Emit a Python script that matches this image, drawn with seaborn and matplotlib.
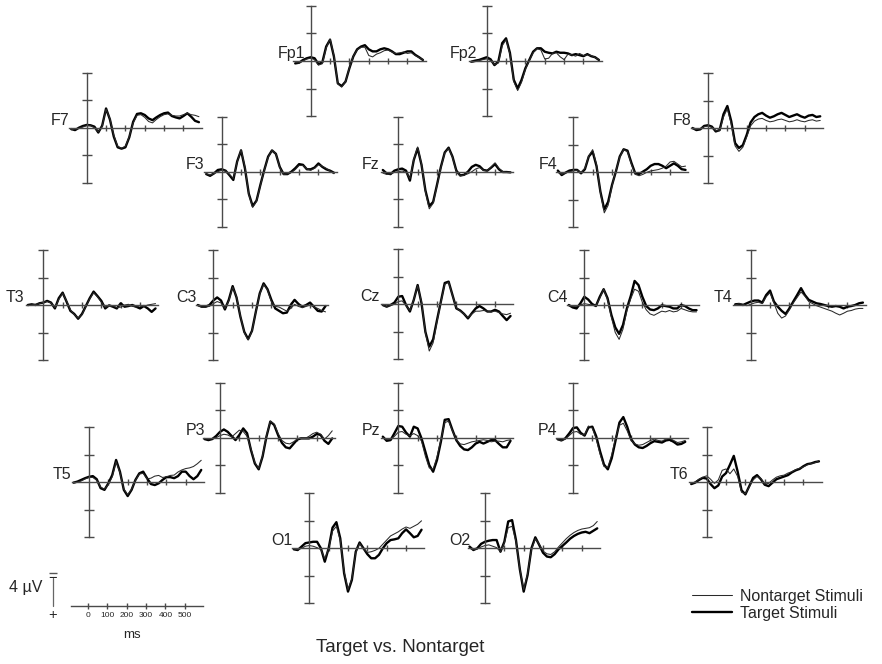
import matplotlib
matplotlib.use("Agg")
import numpy as np
import pandas as pd
import seaborn as sns
import matplotlib.pyplot as plt
from matplotlib.lines import Line2D

# sample times (ms) of the averaged ERP traces
times = list(range(-80, 600, 20))

# amplitudes in microvolts (negative is drawn upward)
fp1_target = [0.35, 0.25, -0.15, -0.4, -0.55, -0.4, 0.45, 0.2, -2.1, -3.1, -0.65, 3.25, 3.65, 3.0, 1.05, -0.65, -1.7, -2.1, -2.3, -1.7, -1.4, -1.4, -1.7, -1.85, -1.7, -1.4, -1.0, -1.0, -1.2, -1.4, -1.4, -0.9, -0.55, -0.15]
fp1_nontarget = [0.2, 0.3, 0.0, -0.3, -0.4, -0.2, 0.6, 0.4, -1.9, -3.2, -0.8, 3.3, 3.8, 3.0, 1.0, -0.7, -1.6, -2.0, -2.0, -0.8, -0.6, -1.0, -1.2, -1.5, -1.6, -1.3, -1.1, -1.2, -1.3, -1.1, -1.2, -0.8, -0.5, -0.2]
fp2_target = [0.1, -0.05, -0.15, -0.35, -0.55, -0.25, 0.6, 0.1, -2.6, -3.3, -1.2, 2.75, 4.0, 2.75, 1.05, -0.15, -1.35, -1.85, -1.85, -1.35, -1.2, -1.1, -1.35, -1.2, -1.2, -1.1, -0.85, -1.0, -0.85, -0.7, -1.0, -0.7, -0.55, -0.15]
fp2_nontarget = [0.2, 0.1, -0.1, -0.2, -0.3, -0.1, 0.5, 0.3, -2.2, -3.1, -1.0, 3.0, 4.3, 3.1, 1.2, -0.1, -1.2, -1.8, -1.6, -0.3, -0.4, -1.1, -1.2, -0.6, -0.2, -1.0, -0.9, -0.7, -1.1, -0.8, -0.9, -0.8, -0.5, -0.2]
f7_target = [0.2, 0.35, 0.0, -0.25, -0.4, -0.35, -0.15, 0.7, -0.3, -2.8, -1.2, 1.3, 2.85, 3.05, 2.85, 1.4, -0.85, -2.0, -2.1, -1.85, -1.35, -1.1, -1.5, -1.85, -2.1, -2.2, -1.7, -1.5, -1.35, -1.7, -2.1, -1.6, -1.0, -0.8]
f7_nontarget = [0.3, 0.2, 0.1, -0.1, -0.3, -0.3, 0.0, 0.6, -0.2, -2.7, -1.3, 1.1, 2.7, 3.0, 2.7, 1.3, -0.7, -1.8, -1.9, -1.5, -0.9, -0.7, -1.2, -1.6, -1.9, -2.0, -1.8, -1.7, -1.7, -1.9, -2.1, -1.9, -1.8, -1.6]
f8_target = [0.0, 0.3, 0.2, -0.3, -0.4, -0.2, 0.5, 0.3, -2.0, -3.2, -1.0, 2.2, 2.9, 2.5, 1.0, -0.8, -1.6, -2.0, -2.2, -1.8, -1.5, -1.7, -2.0, -2.2, -1.9, -1.6, -1.8, -2.0, -1.7, -1.5, -1.8, -1.9, -1.6, -1.7]
f8_nontarget = [0.1, 0.2, 0.1, -0.2, -0.3, -0.1, 0.4, 0.4, -1.6, -2.8, -0.6, 2.6, 3.4, 2.8, 1.3, -0.3, -1.0, -1.3, -1.4, -1.1, -0.9, -1.0, -1.2, -1.3, -1.1, -0.9, -1.0, -1.2, -1.0, -0.9, -1.1, -1.2, -1.0, -1.1]
f3_target = [0.35, 0.6, 0.25, -0.25, -0.35, -0.15, 0.5, 1.2, -1.5, -3.1, -0.5, 3.2, 5.0, 4.2, 1.9, -0.25, -2.2, -3.1, -2.6, -0.7, 0.35, 0.35, 0.0, -0.5, -1.1, -1.0, -0.35, -0.35, -0.6, -1.2, -0.7, -0.35, -0.15, 0.15]
f3_nontarget = [0.3, 0.5, 0.3, 0.0, -0.2, -0.1, 0.4, 1.0, -1.4, -3.2, -0.7, 3.3, 5.2, 4.3, 2.0, -0.2, -2.1, -3.1, -2.6, -0.6, 0.4, 0.3, 0.1, -0.3, -0.9, -0.9, -0.4, -0.2, -0.5, -1.0, -0.8, -0.5, -0.1, 0.3]
fz_target = [-0.25, 0.25, 0.35, -0.15, -0.35, -0.45, -0.15, 1.3, -1.7, -3.4, -1.0, 2.7, 5.0, 4.4, 1.9, -0.7, -2.8, -3.5, -2.2, -0.15, 0.55, 0.45, 0.0, -0.7, -1.0, -0.8, -0.25, -0.15, -0.6, -1.1, -0.35, 0.05, 0.05, 0.1]
fz_nontarget = [0.2, 0.4, 0.3, 0.1, 0.0, -0.1, 0.1, 1.0, -1.8, -3.6, -1.1, 2.9, 5.4, 4.6, 2.0, -0.6, -2.7, -3.4, -2.1, 0.0, 0.6, 0.5, 0.3, 0.0, -0.4, -0.6, -0.2, -0.1, -0.7, -1.3, -0.5, 0.0, 0.1, 0.1]
f4_target = [-0.25, 0.4, 0.05, -0.25, -0.35, -0.35, 0.15, -0.45, -2.3, -3.0, -0.9, 2.8, 5.4, 4.3, 1.85, -0.1, -2.3, -3.35, -3.15, -1.4, 0.15, 0.25, -0.1, -0.45, -0.95, -1.2, -1.2, -0.95, -0.6, -0.95, -1.3, -0.95, -0.45, -0.35]
f4_nontarget = [0.0, 0.3, 0.1, -0.1, -0.2, -0.3, 0.0, -0.6, -2.4, -3.3, -1.1, 2.9, 5.9, 4.8, 2.0, -0.2, -2.2, -3.3, -3.0, -1.2, 0.3, 0.5, 0.3, 0.0, -0.2, -0.3, -0.4, -0.6, -0.9, -1.5, -1.6, -1.2, -0.8, -0.9]
t3_target = [0.0, -0.1, 0.0, -0.25, -0.35, -0.6, -0.35, 0.5, -1.0, -1.8, -0.5, 0.85, 1.3, 2.0, 1.3, 0.15, -1.0, -1.95, -1.3, -0.6, 0.5, 0.05, 0.25, 0.5, -0.25, 0.25, 0.15, 0.0, 0.25, 0.5, 0.15, 0.5, 1.0, 0.5]
t3_nontarget = [0.1, 0.0, -0.1, -0.2, -0.4, -0.5, -0.3, 0.4, -0.8, -1.7, -0.6, 0.7, 1.4, 1.9, 1.4, 0.2, -0.9, -1.8, -1.2, -0.4, 0.3, 0.2, 0.1, 0.4, 0.3, 0.0, -0.1, 0.2, 0.3, 0.1, 0.2, 0.0, -0.1, -0.2]
c3_target = [0.0, 0.25, 0.25, 0.0, -0.65, -1.1, -0.65, 0.65, -0.75, -2.75, -1.1, 1.7, 3.9, 4.95, 3.75, 0.95, -1.7, -3.15, -2.3, -0.75, 0.5, 0.85, 1.2, 1.1, 0.0, -0.75, -0.15, 0.25, 0.0, -0.35, 0.25, 0.85, 0.95, 0.15]
c3_nontarget = [0.1, 0.3, 0.3, 0.2, -0.2, -0.5, -0.3, 0.5, -0.6, -2.6, -1.2, 1.6, 4.0, 5.1, 3.8, 1.0, -1.6, -3.0, -2.2, -0.5, 0.2, 0.3, 0.6, 0.9, 0.5, -0.1, 0.2, 0.4, 0.2, 0.0, 0.3, 0.5, 0.8, 1.0]
cz_target = [0.1, 0.35, 0.1, -0.25, -1.1, -1.2, 0.1, 1.05, -0.65, -2.8, -0.15, 4.0, 6.15, 5.1, 2.3, -0.4, -3.1, -3.3, -1.35, 0.6, 0.9, 1.4, 2.05, 1.3, 0.6, 0.25, 0.6, 1.05, 1.05, 0.8, 1.05, 1.7, 2.3, 1.7]
cz_nontarget = [0.2, 0.3, 0.2, 0.0, -0.4, -0.5, 0.2, 0.9, -0.7, -2.7, -0.3, 4.1, 6.8, 5.6, 2.5, -0.3, -2.9, -3.2, -1.3, 0.5, 1.0, 1.4, 1.9, 1.4, 1.0, 1.0, 0.9, 1.0, 1.1, 1.0, 1.2, 1.4, 1.5, 1.3]
c4_target = [0.0, 0.35, 0.5, -0.25, -1.2, -0.8, -0.15, 0.15, -1.2, -2.3, -1.0, 1.45, 3.25, 4.2, 2.9, 0.5, -1.3, -3.5, -2.9, -1.2, 0.15, 0.65, 0.75, 0.5, 0.05, 0.15, 0.25, 0.5, 0.5, 0.0, 0.15, 0.5, 0.75, 0.75]
c4_nontarget = [0.1, 0.2, 0.2, 0.0, -0.2, -0.1, 0.0, 0.1, -1.0, -2.3, -0.8, 1.8, 4.0, 5.0, 3.5, 0.8, -0.9, -2.3, -2.0, -0.4, 0.7, 1.3, 1.5, 1.2, 0.9, 1.0, 0.8, 1.0, 0.9, 0.5, 0.7, 0.9, 1.0, 1.0]
t4_target = [-0.1, -0.15, 0.0, -0.25, -0.5, -0.65, -0.65, -0.35, -1.45, -2.1, -0.5, 0.25, 0.85, 1.3, 0.5, -0.5, -1.45, -2.45, -1.45, -0.75, -0.5, -0.25, -0.15, 0.0, 0.15, 0.25, 0.15, 0.25, 0.5, 0.25, 0.15, 0.0, -0.25, -0.35]
t4_nontarget = [0.0, -0.2, -0.1, 0.1, -0.1, -0.3, -0.4, -0.2, -1.2, -1.8, -0.3, 1.2, 1.9, 1.6, 0.7, -0.3, -1.1, -1.9, -1.3, -0.5, -0.2, 0.1, 0.3, 0.5, 0.7, 0.9, 1.2, 1.45, 1.2, 0.9, 0.8, 0.6, 0.5, 0.5]
t5_target = [0.05, -0.1, -0.35, -0.6, -0.8, -0.9, -0.45, 0.85, 1.1, 0.15, -1.05, -3.25, -1.55, 1.1, 2.0, 1.1, -0.35, -1.3, -1.55, -0.6, 0.25, 0.4, 0.15, -0.35, -0.75, -0.75, -0.6, -0.9, -1.55, -1.55, -0.9, -0.45, -0.9, -1.8]
t5_nontarget = [0.1, 0.0, -0.2, -0.5, -0.7, -0.7, -0.3, 0.7, 1.0, 0.3, -0.8, -3.0, -1.4, 1.0, 1.8, 1.0, -0.3, -1.2, -1.3, -0.5, -0.6, -0.9, -1.0, -0.7, -0.8, -1.0, -1.05, -1.5, -1.8, -2.0, -2.1, -2.3, -2.7, -3.2]
p3_target = [0.2, 0.35, 0.2, -0.25, -0.85, -1.2, -0.85, -0.25, 0.35, -0.4, -1.35, -0.65, 1.8, 3.75, 4.6, 2.75, -0.15, -2.35, -1.85, -0.4, 0.75, 1.4, 1.55, 0.9, 0.25, 0.1, 0.1, 0.1, -0.15, -0.55, -0.4, 0.45, 0.9, 0.1]
p3_nontarget = [0.1, 0.2, 0.1, 0.0, -0.3, -0.5, -0.4, -0.1, -0.6, -1.1, -0.9, -0.2, 1.6, 3.6, 4.5, 2.6, -0.3, -2.4, -2.0, -0.6, 0.4, 0.8, 0.9, 0.6, 0.2, 0.0, 0.1, -0.2, -0.6, -0.8, -0.5, 0.2, -0.3, -1.0]
pz_target = [-0.15, 0.45, 0.35, -0.65, -1.7, -1.6, -0.75, -0.15, -1.6, -1.35, 0.1, 2.05, 4.0, 4.95, 3.25, 0.6, -2.6, -2.7, -1.1, 0.35, 1.2, 1.7, 1.8, 1.4, 0.85, 0.6, 0.85, 0.6, 0.35, 0.35, 0.9, 1.4, 1.4, 0.45]
pz_nontarget = [0.0, 0.3, 0.2, -0.2, -0.8, -0.9, -0.5, -0.3, -0.6, -0.3, 0.5, 2.7, 4.4, 4.6, 2.8, 0.3, -2.2, -2.4, -1.0, 0.3, 0.9, 1.0, 0.8, 0.6, 0.5, 0.4, 0.3, 0.4, 0.6, 0.5, 0.5, 0.6, 0.4, 0.3]
p4_target = [0.2, 0.4, 0.1, -0.6, -1.4, -1.5, -0.7, -0.3, -1.5, -1.6, -0.2, 2.0, 3.9, 4.6, 3.0, 0.4, -2.2, -3.0, -1.6, 0.2, 1.0, 1.4, 1.5, 1.2, 0.8, 0.5, 0.6, 0.7, 0.4, 0.3, 0.6, 1.0, 0.9, 0.6]
p4_nontarget = [0.3, 0.4, 0.2, -0.3, -0.8, -0.9, -0.5, -0.4, -1.7, -1.4, 0.2, 2.4, 4.2, 4.3, 2.5, 0.0, -1.8, -2.1, -1.0, 0.4, 0.9, 1.1, 1.0, 0.7, 0.4, 0.2, 0.4, 0.5, 0.2, 0.1, 0.4, 0.7, 0.6, 0.4]
t6_target = [0.3, 0.1, -0.3, -0.6, -0.5, 0.3, 0.9, 0.5, -0.8, -1.3, -2.5, -3.8, -1.5, 1.2, 1.8, 0.6, -0.6, -1.0, -0.4, 0.4, 0.6, 0.1, -0.4, -0.6, -0.8, -1.0, -1.4, -1.7, -1.9, -2.3, -2.6, -2.7, -2.9, -3.0]
t6_nontarget = [0.2, 0.0, -0.4, -0.7, -0.9, -0.4, 0.2, -0.3, -1.7, -1.9, -1.2, -1.9, -0.8, 1.5, 1.7, 0.7, -0.3, -0.8, -0.5, 0.3, 0.2, -0.3, -0.7, -0.9, -1.0, -1.3, -1.5, -1.8, -2.0, -2.2, -2.5, -2.7, -2.8, -3.1]
o1_target = [0.15, 0.25, -0.25, -0.75, -0.85, -0.95, -0.95, 0.0, 1.95, 0.0, -3.0, -3.8, -1.45, 3.65, 6.3, 4.6, 0.5, -0.85, 0.0, 0.85, 1.45, 1.45, 0.95, 0.0, -0.75, -1.2, -1.3, -1.45, -2.2, -2.75, -2.2, -1.6, -1.8, -2.7]
o1_nontarget = [0.1, 0.2, 0.0, -0.3, -0.4, -0.3, -0.1, 0.2, 1.5, 0.1, -2.5, -3.2, -1.2, 3.4, 6.0, 4.4, 0.6, -0.7, 0.1, 0.6, 0.5, 0.3, 0.0, -0.6, -1.2, -1.8, -2.1, -2.4, -2.8, -3.1, -2.9, -3.2, -3.5, -4.0]
o2_target = [-0.25, 0.25, 0.0, -0.65, -0.95, -1.1, -1.2, -1.2, 0.5, -0.95, -3.9, -4.1, -1.2, 3.05, 6.3, 3.9, 0.0, -1.6, -0.5, 0.65, 1.2, 1.3, 0.85, 0.15, -0.35, -0.85, -1.4, -1.8, -2.1, -2.3, -2.4, -2.2, -2.55, -2.9]
o2_nontarget = [0.0, 0.2, 0.1, -0.2, -0.4, -0.5, -0.3, -0.1, 0.5, -0.8, -3.0, -3.2, -1.0, 3.0, 6.0, 3.7, 0.2, -1.4, -0.6, 0.4, 0.8, 0.9, 0.5, -0.2, -0.8, -1.4, -1.9, -2.3, -2.6, -2.8, -2.9, -3.0, -3.3, -3.9]

channels = {
    'Fp1': (fp1_target, fp1_nontarget), 'Fp2': (fp2_target, fp2_nontarget),
    'F7': (f7_target, f7_nontarget), 'F8': (f8_target, f8_nontarget),
    'F3': (f3_target, f3_nontarget), 'Fz': (fz_target, fz_nontarget), 'F4': (f4_target, f4_nontarget),
    'T3': (t3_target, t3_nontarget), 'C3': (c3_target, c3_nontarget), 'Cz': (cz_target, cz_nontarget),
    'C4': (c4_target, c4_nontarget), 'T4': (t4_target, t4_nontarget),
    'T5': (t5_target, t5_nontarget), 'P3': (p3_target, p3_nontarget), 'Pz': (pz_target, pz_nontarget),
    'P4': (p4_target, p4_nontarget), 'T6': (t6_target, t6_nontarget),
    'O1': (o1_target, o1_nontarget), 'O2': (o2_target, o2_nontarget),
}

# where each electrode's axes cross on the page (pixels from top-left) and label gap
layout = {
    'Fp1': (310.7, 61, 5), 'Fp2': (486.7, 61, 10),
    'F7': (86.7, 127.7, 17), 'F8': (708, 128, 17),
    'F3': (221.7, 171.7, 17), 'Fz': (398.3, 171.7, 19), 'F4': (573.3, 172.3, 16),
    'T3': (43.3, 305, 19), 'C3': (213.3, 305, 17), 'Cz': (398.3, 304.3, 19),
    'C4': (584.3, 305, 17), 'T4': (750.7, 305, 18),
    'T5': (89, 482.3, 18), 'P3': (220, 437.7, 15), 'Pz': (398.3, 437.7, 18),
    'P4': (573, 437.7, 16), 'T6': (706.7, 482, 18),
    'O1': (309.3, 548.3, 17), 'O2': (485, 548.3, 15),
}

W, H = 882, 664
PX_MS = 0.1935   # pixels per ms
PX_UV = 6.875    # pixels per microvolt
T0, T1 = -90, 595
AXIS_COL = '#4a4a4a'

sns.set_style('white')
plt.rcParams['font.family'] = ['Liberation Sans', 'DejaVu Sans']

fig = plt.figure(figsize=(W / 100, H / 100), dpi=100)


def add_panel(ox, oy):
    """Axes whose (0 ms, 0 uV) point sits at pixel (ox, oy)."""
    w = (T1 - T0) * PX_MS
    h = 16 * PX_UV
    left = ox + T0 * PX_MS
    ax = fig.add_axes([left / W, (H - oy - h / 2) / H, w / W, h / H])
    ax.set_xlim(T0, T1)
    ax.set_ylim(8, -8)  # negative up
    ax.patch.set_alpha(0)
    for s in ['top', 'right']:
        ax.spines[s].set_visible(False)
    for s in ['left', 'bottom']:
        ax.spines[s].set_position(('data', 0))
        ax.spines[s].set_color(AXIS_COL)
        ax.spines[s].set_linewidth(1.0)
    ax.set_xticks([100, 200, 300, 400, 500])
    ax.set_yticks([-8, -4, 4, 8])
    ax.tick_params(axis='both', direction='inout', color=AXIS_COL, width=1.0,
                   bottom=True, left=True, labelbottom=False, labelleft=False)
    ax.tick_params(axis='x', length=5)
    ax.tick_params(axis='y', length=6.5)
    ax.set_xlabel('')
    ax.set_ylabel('')
    return ax


for name, (target, nontarget) in channels.items():
    ox, oy, gap = layout[name]
    ax = add_panel(ox, oy)
    sns.lineplot(x=times, y=target, ax=ax, color='black', lw=1.7, legend=False)
    sns.lineplot(x=times, y=nontarget, ax=ax, color='#2a2a2a', lw=0.75, legend=False)
    ax.set_xlim(T0, T1)
    ax.set_ylim(8, -8)
    ax.annotate(name, xy=(0, 0), xycoords='data', xytext=(-gap, 3),
                textcoords='offset pixels', ha='right', va='baseline', fontsize=11.5)

# calibration: time axis and 4 uV bar
sc = add_panel(88, 605.7)
sc.spines['left'].set_visible(False)
sc.set_yticks([])
sc.set_xticks([0, 100, 200, 300, 400, 500])
sc.set_xticklabels(['0', '100', '200', '300', '400', '500'])
sc.tick_params(axis='x', labelbottom=True, labelsize=6, pad=2)
sc.plot([-181, -181], [0, -4], color='#666666', lw=0.9, clip_on=False)
sc.plot([-181], [-4.7], marker='_', ms=6, color='#555555', clip_on=False)
sc.text(-181, -4.0, '\u2212', ha='center', va='center', fontsize=10.5, clip_on=False)
sc.text(-181, 1.4, '+', ha='center', va='center', fontsize=10.5, clip_on=False)
sc.text(-238, -2.7, '4 \u00b5V', ha='right', va='center', fontsize=11.5, clip_on=False)
sc.text(228, 4.3, 'ms', ha='center', va='center', fontsize=9.5, clip_on=False)

handles = [Line2D([], [], color='#2a2a2a', lw=0.75), Line2D([], [], color='black', lw=1.7)]
fig.legend(handles, ['Nontarget Stimuli', 'Target Stimuli'], loc='upper left',
           bbox_to_anchor=(692 / W, 1 - 589 / H), frameon=False, fontsize=11.5,
           handlelength=2.5, handletextpad=0.5, labelspacing=0.1,
           borderpad=0, borderaxespad=0)

fig.text(400 / W, 1 - 648 / H, 'Target vs. Nontarget', ha='center', va='center', fontsize=13.5)

fig.savefig('out.png', dpi=100)
